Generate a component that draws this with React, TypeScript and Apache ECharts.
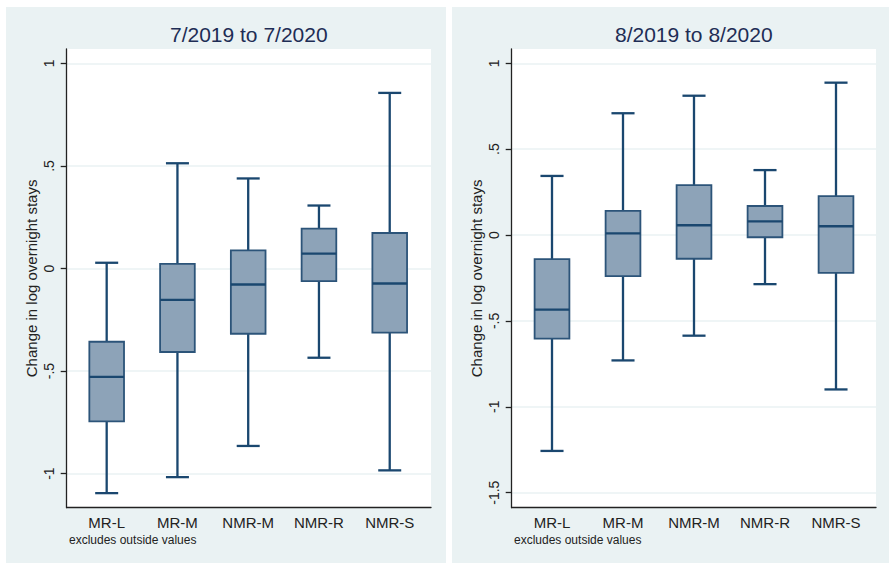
import React, { useEffect, useRef } from "react";
import * as echarts from "echarts";

const categories = ["MR-L", "MR-M", "NMR-M", "NMR-R", "NMR-S"];

// 7/2019 to 7/2020
const leftLow = [-1.095, -1.017, -0.865, -0.435, -0.984];
const leftQ1 = [-0.745, -0.407, -0.318, -0.062, -0.313];
const leftMedian = [-0.528, -0.153, -0.078, 0.073, -0.073];
const leftQ3 = [-0.357, 0.023, 0.088, 0.194, 0.173];
const leftHigh = [0.028, 0.513, 0.439, 0.307, 0.856];

// 8/2019 to 8/2020
const rightLow = [-1.257, -0.73, -0.586, -0.286, -0.899];
const rightQ1 = [-0.603, -0.239, -0.138, -0.013, -0.22];
const rightMedian = [-0.434, 0.01, 0.057, 0.08, 0.051];
const rightQ3 = [-0.14, 0.14, 0.29, 0.169, 0.226];
const rightHigh = [0.344, 0.709, 0.811, 0.378, 0.887];

const leftTicks = [-1, -0.5, 0, 0.5, 1];
const rightTicks = [-1.5, -1, -0.5, 0, 0.5, 1];

const leftTitle = "7/2019 to 7/2020";
const rightTitle = "8/2019 to 8/2020";
const yTitle = "Change in log overnight stays";
const note = "excludes outside values";

const PANEL_BG = "#EAF2F3";
const NAVY = "#1A476F";
const BOX_FILL = "#8DA3B8";
const FONT = "'Liberation Sans', Arial, sans-serif";

const fmtTick = (v: number) => {
  if (v === 0) return "0";
  const s = String(Math.abs(v)).replace(/^0/, "");
  return (v < 0 ? "-" : "") + s;
};

function buildData(low: number[], q1: number[], med: number[], q3: number[], high: number[]) {
  return categories.map((_, i) => [i, low[i], q1[i], med[i], q3[i], high[i]]);
}

const renderBox = (params: any, api: any) => {
  const idx = api.value(0);
  const band = api.size([1, 0])[0];
  const boxW = band * 0.49;
  const capW = band * 0.325;
  const x = api.coord([idx, 0])[0];
  const yLow = api.coord([idx, api.value(1)])[1];
  const yQ1 = api.coord([idx, api.value(2)])[1];
  const yMed = api.coord([idx, api.value(3)])[1];
  const yQ3 = api.coord([idx, api.value(4)])[1];
  const yHigh = api.coord([idx, api.value(5)])[1];
  const ws = { stroke: NAVY, lineWidth: 2.3 };
  return {
    type: "group",
    children: [
      { type: "line", shape: { x1: x, y1: yHigh, x2: x, y2: yQ3 }, style: ws },
      { type: "line", shape: { x1: x, y1: yQ1, x2: x, y2: yLow }, style: ws },
      { type: "line", shape: { x1: x - capW / 2, y1: yHigh, x2: x + capW / 2, y2: yHigh }, style: ws },
      { type: "line", shape: { x1: x - capW / 2, y1: yLow, x2: x + capW / 2, y2: yLow }, style: ws },
      {
        type: "rect",
        shape: { x: x - boxW / 2, y: yQ3, width: boxW, height: yQ1 - yQ3 },
        style: { fill: BOX_FILL, stroke: "#2C5479", lineWidth: 1.8 },
      },
      { type: "line", shape: { x1: x - boxW / 2, y1: yMed, x2: x + boxW / 2, y2: yMed }, style: { stroke: NAVY, lineWidth: 2.3 } },
    ],
  };
};

export default function App() {
  const ref = useRef<HTMLDivElement>(null);

  useEffect(() => {
    if (!ref.current) return;
    const chart = echarts.init(ref.current, undefined, { renderer: "svg" });

    const top = 49;
    const height = 458.7;
    const lMin = -1.166, lMax = 1.07;
    const rMin = -1.5875, rMax = 1.083;

    const frameX = (gridIndex: number) => ({
      type: "value",
      gridIndex,
      min: 0,
      max: 1,
      axisLine: { show: true, onZero: false, lineStyle: { color: "#222", width: 1.3 } },
      axisTick: { show: false },
      axisLabel: { show: false },
      splitLine: { show: false },
    });
    const frameY = (gridIndex: number, min: number, max: number, ticks: number[]) => ({
      type: "value",
      gridIndex,
      min,
      max,
      axisLine: { show: true, onZero: false, lineStyle: { color: "#222", width: 1.3 } },
      axisTick: { show: true, length: 6, customValues: ticks, lineStyle: { color: "#222", width: 1.3 } },
      axisLabel: {
        show: true,
        customValues: ticks,
        rotate: 90,
        margin: 11,
        fontSize: 14,
        fontFamily: FONT,
        color: "#222",
        formatter: (v: number) => fmtTick(v),
      },
      splitLine: { show: true, lineStyle: { color: PANEL_BG, width: 1.6 } },
    });
    const dataX = (gridIndex: number) => ({
      type: "category",
      gridIndex,
      data: categories,
      boundaryGap: true,
      axisLine: { show: false },
      axisTick: { show: false },
      axisLabel: { show: true, margin: 7, fontSize: 15, fontFamily: FONT, color: "#222" },
      splitLine: { show: false },
    });
    const dataY = (gridIndex: number, min: number, max: number) => ({
      type: "value",
      gridIndex,
      min,
      max,
      show: false,
    });

    chart.setOption({
      animation: false,
      backgroundColor: "#ffffff",
      graphic: [
        { type: "rect", z: -10, shape: { x: 6, y: 7, width: 440, height: 556 }, style: { fill: PANEL_BG } },
        { type: "rect", z: -10, shape: { x: 452, y: 7, width: 437, height: 556 }, style: { fill: PANEL_BG } },
        {
          type: "text", x: 248.8, y: 34,
          style: { text: leftTitle, fontSize: 21, fontFamily: FONT, fill: "#1E2D55", textAlign: "center", textVerticalAlign: "middle" },
        },
        {
          type: "text", x: 693.8, y: 34,
          style: { text: rightTitle, fontSize: 21, fontFamily: FONT, fill: "#1E2D55", textAlign: "center", textVerticalAlign: "middle" },
        },
        {
          type: "text", x: 31.7, y: 278.4, rotation: Math.PI / 2,
          style: { text: yTitle, fontSize: 15, fontFamily: FONT, fill: "#222", textAlign: "center", textVerticalAlign: "middle" },
        },
        {
          type: "text", x: 476.7, y: 278.4, rotation: Math.PI / 2,
          style: { text: yTitle, fontSize: 15, fontFamily: FONT, fill: "#222", textAlign: "center", textVerticalAlign: "middle" },
        },
        {
          type: "text", x: 69, y: 540,
          style: { text: note, fontSize: 12, fontFamily: FONT, fill: "#222", textAlign: "left", textVerticalAlign: "middle" },
        },
        {
          type: "text", x: 514, y: 540,
          style: { text: note, fontSize: 12, fontFamily: FONT, fill: "#222", textAlign: "left", textVerticalAlign: "middle" },
        },
      ],
      grid: [
        { left: 66.7, top, width: 364.3, height, show: true, backgroundColor: "#ffffff", borderWidth: 0 },
        { left: 71.3, top, width: 353.8, height },
        { left: 511.7, top, width: 364.3, height, show: true, backgroundColor: "#ffffff", borderWidth: 0 },
        { left: 516.5, top, width: 355, height },
      ],
      xAxis: [frameX(0), dataX(1), frameX(2), dataX(3)],
      yAxis: [
        frameY(0, lMin, lMax, leftTicks),
        dataY(1, lMin, lMax),
        frameY(2, rMin, rMax, rightTicks),
        dataY(3, rMin, rMax),
      ],
      series: [
        {
          type: "custom",
          xAxisIndex: 1,
          yAxisIndex: 1,
          clip: false,
          renderItem: renderBox,
          encode: { x: 0, y: [1, 2, 3, 4, 5] },
          data: buildData(leftLow, leftQ1, leftMedian, leftQ3, leftHigh),
        },
        {
          type: "custom",
          xAxisIndex: 3,
          yAxisIndex: 3,
          clip: false,
          renderItem: renderBox,
          encode: { x: 0, y: [1, 2, 3, 4, 5] },
          data: buildData(rightLow, rightQ1, rightMedian, rightQ3, rightHigh),
        },
      ],
    });

    return () => chart.dispose();
  }, []);

  return (
    <div
      ref={ref}
      style={{ position: "fixed", left: 0, top: 0, width: 889, height: 563 }}
    />
  );
}
